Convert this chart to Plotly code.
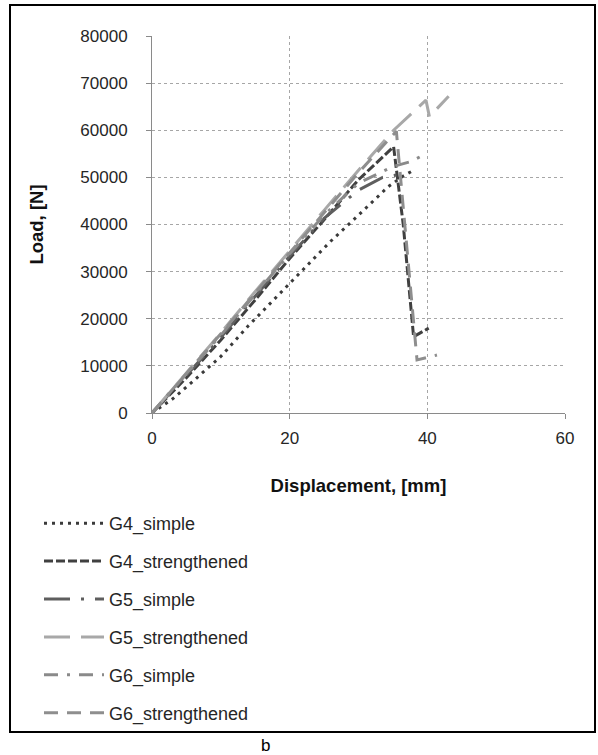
import plotly.graph_objects as go

# ---- data ----
g4_simple_x = [0, 3, 6, 10, 14, 18, 22, 26, 30, 34.3, 36.5, 38.0]
g4_simple_y = [0, 3000, 6800, 12000, 18500, 24500, 30500, 36500, 42000, 48000, 50300, 51500]

g4_str_x = [0, 5, 10, 15, 20, 25, 30, 35.1, 36.5, 38.0, 40.2]
g4_str_y = [0, 7500, 15500, 24000, 32800, 41000, 49500, 56500, 40000, 16200, 18000]

g5_simple_x = [0, 5, 10, 15, 20, 25, 30, 33.5, 35.5]
g5_simple_y = [0, 8000, 16000, 24800, 33300, 41300, 47300, 50000, 50500]

g5_str_x = [0, 5, 10, 15, 20, 25, 30, 35.1, 39.8, 40.3, 43.1]
g5_str_y = [0, 8500, 17000, 25800, 34500, 43000, 51500, 60000, 66400, 62900, 67200]

g6_simple_x = [0, 5, 10, 15, 20, 25, 30, 35, 37.5, 39.4]
g6_simple_y = [0, 8200, 16500, 25200, 33800, 42000, 48800, 52300, 53300, 54700]

g6_str_x = [0, 5, 10, 15, 20, 25, 30, 35.5, 38.5, 41.4]
g6_str_y = [0, 8300, 16800, 25500, 34000, 42500, 51000, 59800, 11250, 12300]

series_names = ["G4_simple", "G4_strengthened", "G5_simple",
                "G5_strengthened", "G6_simple", "G6_strengthened"]

x_ticks = [0, 20, 40, 60]
y_ticks = [0, 10000, 20000, 30000, 40000, 50000, 60000, 70000, 80000]

# ---- styling ----
W, H = 598, 755
L, R, T, B = 152, 33, 36, 342
FONT = "Liberation Sans, Arial, sans-serif"

styles = [
    dict(color="#3a3a3a", dash="3px,5px"),
    dict(color="#404040", dash="9px,3px"),
    dict(color="#5e5e5e", dash="26px,11px,3px,11px"),
    dict(color="#a8a8a8", dash="26px,11px"),
    dict(color="#8a8a8a", dash="14px,9px,3px,9px"),
    dict(color="#8e8e8e", dash="14px,9px"),
]

data = [
    (g4_simple_x, g4_simple_y),
    (g4_str_x, g4_str_y),
    (g5_simple_x, g5_simple_y),
    (g5_str_x, g5_str_y),
    (g6_simple_x, g6_simple_y),
    (g6_str_x, g6_str_y),
]

fig = go.Figure()
for (xs, ys), name, st in zip(data, series_names, styles):
    fig.add_trace(go.Scatter(
        x=xs, y=ys, name=name, mode="lines",
        line=dict(color=st["color"], dash=st["dash"], width=3),
        legendgroup=name,
    ))

pw = W - L - R
ph = H - T - B


def px_x(p):
    return (p - L) / pw


def px_y(p):
    return (H - B - p) / ph


axis_common = dict(
    showline=True, linecolor="#8a8a8a", linewidth=1,
    ticks="outside", ticklen=5, tickcolor="#8a8a8a",
    showgrid=True, gridcolor="#a6a6a6", griddash="dot", gridwidth=1,
    zeroline=False, mirror=False,
    tickfont=dict(family=FONT, size=17, color="#262626"),
)

fig.update_layout(
    width=W, height=H,
    margin=dict(l=L, r=R, t=T, b=B, autoexpand=False),
    paper_bgcolor="white", plot_bgcolor="white",
    font=dict(family=FONT, size=17, color="#262626"),
    xaxis=dict(range=[0, 60], tickvals=x_ticks, ticklabelstandoff=5,
               title=dict(text="<b>Displacement, [mm]</b>", standoff=31,
                          font=dict(family=FONT, size=18.5, color="#111")),
               **axis_common),
    yaxis=dict(range=[0, 80000], tickvals=y_ticks, tickformat="d",
               ticklabelstandoff=15,
               title=dict(text="<b>Load, [N]</b>", standoff=31,
                          font=dict(family=FONT, size=18.5, color="#111")),
               **axis_common),
    showlegend=True,
    legend=dict(
        x=px_x(39), y=px_y(505), xanchor="left", yanchor="top",
        orientation="v", traceorder="grouped", tracegroupgap=11.5,
        itemwidth=60, bgcolor="rgba(0,0,0,0)",
        font=dict(family=FONT, size=18, color="#262626"),
    ),
    shapes=[
        dict(type="rect", xref="paper", yref="paper",
             x0=px_x(10), x1=px_x(595), y0=px_y(732), y1=px_y(5),
             line=dict(color="black", width=2), fillcolor="rgba(0,0,0,0)",
             layer="below"),
    ],
    annotations=[
        dict(text="b", xref="paper", yref="paper", x=px_x(265), y=px_y(745),
             showarrow=False, font=dict(family=FONT, size=17, color="black"),
             xanchor="center", yanchor="middle"),
    ],
)

fig.write_html(
    "out.html",
    config={"displayModeBar": False},
    post_script="document.body.style.margin='0';document.body.style.overflow='hidden';",
)
